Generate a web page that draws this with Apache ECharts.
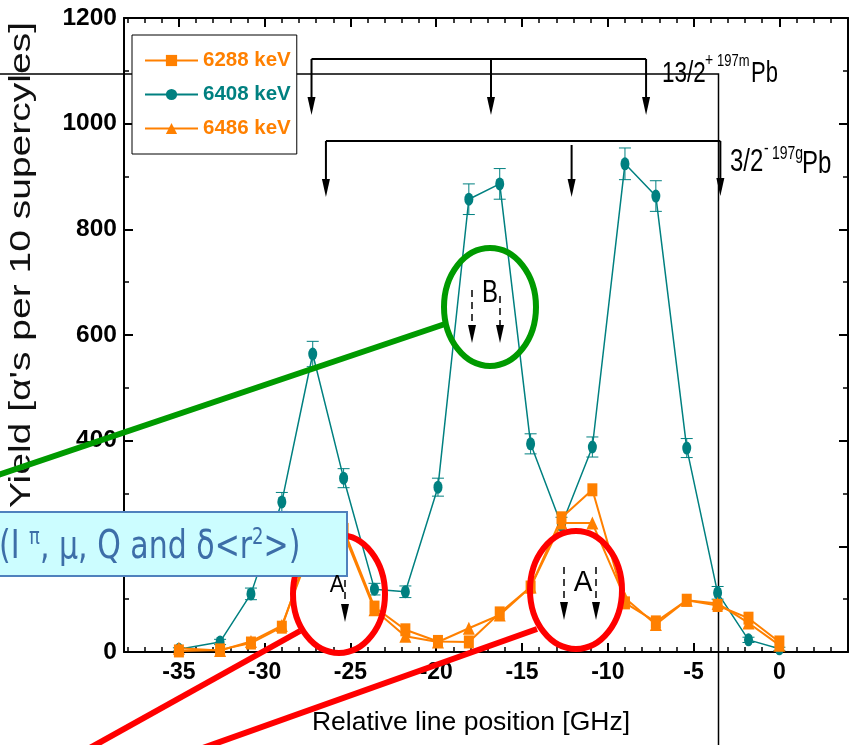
<!DOCTYPE html>
<html>
<head>
<meta charset="utf-8">
<title>Alpha yield vs relative line position</title>
<script src="https://cdn.jsdelivr.net/npm/echarts@6.0.0/dist/echarts.min.js"></script>
<style>
  html, body { margin: 0; padding: 0; background: #fff; }
  #chart { width: 850px; height: 745px; }
</style>
</head>
<body>
<div id="chart"></div>
<script>
// relative line position [GHz]
const positions = [-35, -32.6, -30.8, -29.0, -27.2, -25.4, -23.6, -21.8, -19.9, -18.1,
                   -16.3, -14.5, -12.7, -10.9, -9.0, -7.2, -5.4, -3.6, -1.8, 0];
// yields (alpha's per 10 supercycles)
const yield6288 = [2, 4, 17, 47, 215, 232, 85, 42, 20, 19, 74, 123, 254, 307, 93, 57, 98, 88, 64, 19];
const yield6408 = [5, 19, 110, 284, 564, 329, 119, 114, 312, 857, 886, 394, 240, 388, 924, 863, 386, 112, 23, 6];
const err6408   = [3, 5, 11, 18, 24, 18, 11, 11, 17, 29, 29, 19, 15, 19, 30, 29, 18, 12, 5, 3];
const yield6486 = [7, 3, 20, 50, 205, 225, 80, 30, 19, 45, 70, 123, 244, 244, 102, 52, 98, 92, 55, 13];

const xMajorTicks = [-35, -30, -25, -20, -15, -10, -5, 0];
const xMinorTicks = [-38, -37, -36, -35, -34, -33, -32, -31, -30, -29, -28, -27, -26, -25, -24, -23, -22,
                     -21, -20, -19, -18, -17, -16, -15, -14, -13, -12, -11, -10, -9, -8, -7, -6, -5,
                     -4, -3, -2, -1, 0, 1, 2, 3, 4];
// hyperfine component markers
const arrows197m = [-27.27, -16.81, -7.77];
const arrows197g = [-26.43, -12.11, -3.44];

const ORANGE = '#ff8000';
const TEAL = '#008080';
const SANS = "'Liberation Sans', Arial, sans-serif";

const pts = (ys) => positions.map((x, i) => [x, ys[i]]);

const chart = echarts.init(document.getElementById('chart'));

const xCommon = {
  type: 'value', min: -38.2, max: 4,
  splitLine: { show: false },
  axisLabel: { show: false }
};

chart.setOption({
  animation: false,
  backgroundColor: '#fff',
  grid: { left: 124, right: 2, top: 18, bottom: 93, outerBoundsMode: 'none' },
  legend: {
    data: [
      { name: '6288 keV', textStyle: { color: ORANGE } },
      { name: '6408 keV', textStyle: { color: TEAL } },
      { name: '6486 keV', textStyle: { color: ORANGE } }
    ],
    orient: 'vertical', left: 132, top: 35,
    padding: [15, 6, 15, 12],
    itemWidth: 53, itemHeight: 14, itemGap: 13,
    backgroundColor: '#fff', borderColor: '#000', borderWidth: 1,
    textStyle: { fontFamily: SANS, fontWeight: 'bold', fontSize: 20.5 }
  },
  xAxis: [
    Object.assign({}, xCommon, {
      position: 'bottom',
      axisLine: { onZero: false, lineStyle: { color: '#000', width: 2 } },
      axisTick: { inside: true, length: 9, customValues: xMajorTicks, lineStyle: { width: 2 } },
      axisLabel: {
        show: true, customValues: xMajorTicks, margin: 9,
        color: '#000', fontFamily: SANS, fontWeight: 'bold', fontSize: 23
      },
      name: 'Relative line position [GHz]',
      nameLocation: 'middle', nameGap: 57,
      nameTextStyle: { color: '#000', fontFamily: SANS, fontSize: 26.5, padding: [0, 30, 0, 0] }
    }),
    Object.assign({}, xCommon, {
      position: 'bottom',
      axisLine: { show: false, onZero: false },
      axisTick: { inside: true, length: 5, customValues: xMinorTicks, lineStyle: { color: '#000', width: 1.5 } }
    }),
    Object.assign({}, xCommon, {
      position: 'top',
      axisLine: { onZero: false, lineStyle: { color: '#000', width: 2 } },
      axisTick: { inside: true, length: 9, customValues: xMajorTicks, lineStyle: { width: 2 } }
    }),
    Object.assign({}, xCommon, {
      position: 'top',
      axisLine: { show: false, onZero: false },
      axisTick: { inside: true, length: 5, customValues: xMinorTicks, lineStyle: { color: '#000', width: 1.5 } }
    })
  ],
  yAxis: [
    {
      type: 'value', min: 0, max: 1200, interval: 200, position: 'left',
      axisLine: { show: true, onZero: false, lineStyle: { color: '#000', width: 2 } },
      axisTick: { show: true, inside: true, length: 9, lineStyle: { width: 2 } },
      minorTick: { show: true, splitNumber: 2, length: 5, lineStyle: { color: '#000', width: 1.5 } },
      splitLine: { show: false },
      axisLabel: {
        margin: 7, color: '#000', fontFamily: SANS, fontWeight: 'bold', fontSize: 24.5,
        formatter: (v) => String(v)
      }
    },
    {
      type: 'value', min: 0, max: 1200, interval: 200, position: 'right',
      axisLine: { show: true, onZero: false, lineStyle: { color: '#000', width: 2 } },
      axisTick: { show: true, inside: true, length: 9, lineStyle: { width: 2 } },
      minorTick: { show: true, splitNumber: 2, length: 5, lineStyle: { color: '#000', width: 1.5 } },
      splitLine: { show: false },
      axisLabel: { show: false }
    }
  ],
  series: [
    {
      name: '6408 err', type: 'custom', xAxisIndex: 0, yAxisIndex: 0, z: 2,
      data: positions.map((x, i) => [x, yield6408[i] - err6408[i], yield6408[i] + err6408[i]]),
      encode: { x: 0, y: [1, 2] },
      renderItem: (params, api) => {
        const lo = api.coord([api.value(0), api.value(1)]);
        const hi = api.coord([api.value(0), api.value(2)]);
        const w = 6;
        const st = { stroke: TEAL, lineWidth: 1 };
        return {
          type: 'group',
          children: [
            { type: 'line', shape: { x1: lo[0], y1: lo[1], x2: hi[0], y2: hi[1] }, style: st },
            { type: 'line', shape: { x1: lo[0] - w, y1: lo[1], x2: lo[0] + w, y2: lo[1] }, style: st },
            { type: 'line', shape: { x1: hi[0] - w, y1: hi[1], x2: hi[0] + w, y2: hi[1] }, style: st }
          ]
        };
      }
    },
    {
      name: '6408 keV', type: 'line', data: pts(yield6408),
      symbol: 'circle', symbolSize: [9, 13], showAllSymbol: true,
      itemStyle: { color: TEAL }, lineStyle: { color: TEAL, width: 1.5 }
    },
    {
      name: '6288 keV', type: 'line', data: pts(yield6288),
      symbol: 'rect', symbolSize: [10, 13], showAllSymbol: true,
      itemStyle: { color: ORANGE }, lineStyle: { color: ORANGE, width: 2 }
    },
    {
      name: '6486 keV', type: 'line', data: pts(yield6486),
      symbol: 'triangle', symbolSize: [12, 13], showAllSymbol: true,
      itemStyle: { color: ORANGE }, lineStyle: { color: ORANGE, width: 2 }
    }
  ]
});

// ---- annotations ----
function txt(x, y, text, size, o) {
  o = o || {};
  return {
    type: 'text', x: x, y: y, z: o.z || 60,
    rotation: o.rotation || 0, scaleX: o.sx || 1, scaleY: o.sy || 1,
    style: {
      text: text, fontSize: size, fontFamily: o.family || SANS,
      fontWeight: o.weight || 'normal', fill: o.color || '#000',
      textAlign: o.align || 'left', textVerticalAlign: 'middle',
      align: o.align || 'left', verticalAlign: 'middle', rich: o.rich
    }
  };
}

function arrow(x, y1, y2, dashed) {
  const head = 18, half = 4;
  return [
    {
      type: 'line', z: 60,
      shape: { x1: x, y1: y1, x2: x, y2: y2 - head + 1 },
      style: { stroke: '#000', lineWidth: dashed ? 1.5 : 2, lineDash: dashed ? [7, 5] : null }
    },
    {
      type: 'polygon', z: 60,
      shape: { points: [[x - half, y2 - head], [x + half, y2 - head], [x, y2]] },
      style: { fill: '#000' }
    }
  ];
}

const px = (v) => chart.convertToPixel({ xAxisIndex: 0 }, v);
const els = [];

// slide frame lines behind the plot
els.push({ type: 'polyline', z: 1, shape: { points: [[0, 74], [718.5, 74], [718.5, 746]] },
           style: { stroke: '#000', lineWidth: 1.5, fill: null } });

// 13/2+ 197mPb bracket
const um = arrows197m.map(px);
els.push({ type: 'line', z: 60, shape: { x1: um[0], y1: 59, x2: um[2], y2: 59 }, style: { stroke: '#000', lineWidth: 2 } });
um.forEach((x) => els.push(...arrow(x, 59, 115, false)));
// 3/2- 197gPb bracket
const ug = arrows197g.map(px);
els.push({ type: 'line', z: 60, shape: { x1: ug[0], y1: 141, x2: ug[2], y2: 141 }, style: { stroke: '#000', lineWidth: 2 } });
els.push(...arrow(ug[0], 141, 197, false));
els.push(...arrow(ug[1], 145, 197, false));
els.push(...arrow(ug[2], 141, 196, false));

els.push(txt(662, 74, '13/2', 22.5, { sy: 1.3 }));
els.push(txt(705, 61, '+', 14, { sy: 1.3 }));
els.push(txt(717, 61, '197m', 13, { sy: 1.3 }));
els.push(txt(751, 74, 'Pb', 22, { sy: 1.3 }));
els.push(txt(730, 162, '3/2', 24, { sy: 1.3 }));
els.push(txt(764, 149, '-', 14, { sy: 1.3 }));
els.push(txt(772, 154, '197g', 14, { sy: 1.3 }));
els.push(txt(802, 164, 'Pb', 24, { sy: 1.3 }));

// y axis title
els.push(txt(22, 265, "Yield [\u03b1's per 10 supercyles]", 30,
  { rotation: Math.PI / 2, sx: 1.3, align: 'center', color: '#111' }));

// green ellipse B
els.push({ type: 'line', z: 100, shape: { x1: -2, y1: 475, x2: 445, y2: 324 }, style: { stroke: '#009a00', lineWidth: 6 } });
els.push({ type: 'ellipse', z: 100, shape: { cx: 490, cy: 307, rx: 46, ry: 59 }, style: { stroke: '#009a00', lineWidth: 6, fill: null } });
els.push(txt(490, 293, 'B', 24, { sy: 1.3, align: 'center', z: 101 }));
els.push(...arrow(472, 290, 343, true));
els.push(...arrow(500, 296, 343, true));

// red ellipses A
els.push({ type: 'line', z: 100, shape: { x1: 88, y1: 749, x2: 300, y2: 631 }, style: { stroke: '#ff0000', lineWidth: 6 } });
els.push({ type: 'line', z: 100, shape: { x1: 200, y1: 749, x2: 537, y2: 629 }, style: { stroke: '#ff0000', lineWidth: 6 } });
els.push({ type: 'ellipse', z: 100, shape: { cx: 339, cy: 594, rx: 46, ry: 59 }, style: { stroke: '#ff0000', lineWidth: 6, fill: null } });
els.push({ type: 'ellipse', z: 100, shape: { cx: 576, cy: 590, rx: 46, ry: 59 }, style: { stroke: '#ff0000', lineWidth: 6, fill: null } });
els.push(...arrow(345, 580, 622, true));
els.push(txt(337, 585, 'A', 22, { sy: 1.1, align: 'center', z: 101 }));
els.push(...arrow(564, 567, 620, true));
els.push(...arrow(596, 567, 620, true));
els.push(txt(583, 583, 'A', 28, { sy: 1.05, align: 'center', z: 101 }));

// cyan text box
els.push({ type: 'rect', z: 100, shape: { x: -3, y: 512, width: 350, height: 64 },
           style: { fill: '#ccfdff', stroke: '#4f81bd', lineWidth: 2 } });
els.push(txt(-1, 548, '{a|(I }{s|\u03c0}{a|, \u03bc, Q and \u03b4<r}{s|2}{a|>)}', 30, {
  family: "'DejaVu Sans', sans-serif", color: '#3d6ea8', sy: 1.3, z: 101,
  rich: {
    a: { fontSize: 30, fontFamily: "'DejaVu Sans', sans-serif", color: '#3d6ea8', lineHeight: 34 },
    s: { fontSize: 18, fontFamily: "'DejaVu Sans', sans-serif", color: '#3d6ea8', verticalAlign: 'top', lineHeight: 34 }
  }
}));

chart.setOption({ graphic: { elements: els } });
</script>
</body>
</html>
